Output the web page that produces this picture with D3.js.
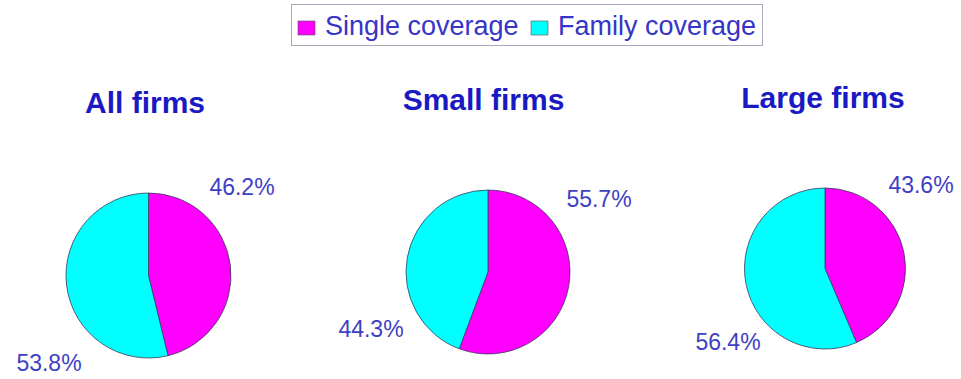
<!DOCTYPE html>
<html>
<head>
<meta charset="utf-8">
<script src="https://cdn.jsdelivr.net/npm/d3@7"></script>
<style>
  body { margin: 0; background: #fff; }
  svg { display: block; font-family: Arial, "Liberation Sans", sans-serif; }
</style>
</head>
<body>
<svg id="chart"></svg>
<script>
// chart data
const groups = ["All firms", "Small firms", "Large firms"];
const series = ["Single coverage", "Family coverage"];
const singleShare = [46.2, 55.7, 43.6];
const familyShare = [53.8, 44.3, 56.4];
const colors = ["#ff00ff", "#00ffff"];

// layout (picture is slightly tilted, so each pie gets its own spot)
const pieCenters = [[148.5, 275.5], [488, 272], [825, 268.5]];
const pieRadius = [82.5, 82, 80.5];
const titlePos = [[145, 112.5], [483.5, 109.5], [823, 108]];
const labelOffsets = [
  [[93.5, -80.5], [-99.5, 95.5]],
  [[111, -65], [-117, 65]],
  [[96, -75.5], [-97, 81.5]]
];

const width = 961, height = 379;

const svg = d3.select("#chart")
  .attr("width", width)
  .attr("height", height);

// legend
const legend = svg.append("g").attr("class", "legend");
legend.append("rect")
  .attr("x", 291.5).attr("y", 4.5)
  .attr("width", 471).attr("height", 41)
  .attr("fill", "#fff")
  .attr("stroke", "#a8a8b8")
  .attr("stroke-width", 1);

const legendX = [298, 531];
series.forEach((s, i) => {
  legend.append("rect")
    .attr("x", legendX[i]).attr("y", 21)
    .attr("width", 17).attr("height", 14)
    .attr("fill", colors[i])
    .attr("stroke", "#555")
    .attr("stroke-width", 0.6);
  legend.append("text")
    .attr("x", legendX[i] + 27).attr("y", 35)
    .attr("fill", "#3535c8")
    .style("font-size", "27px")
    .text(s);
});

const pie = d3.pie().sort(null).value(d => d);

groups.forEach((g, i) => {
  const [cx, cy] = pieCenters[i];
  const arc = d3.arc().innerRadius(0).outerRadius(pieRadius[i]);
  const values = [singleShare[i], familyShare[i]];

  svg.append("text")
    .attr("x", titlePos[i][0]).attr("y", titlePos[i][1])
    .attr("text-anchor", "middle")
    .attr("font-weight", "bold")
    .attr("fill", "#1a1ac4")
    .style("font-size", "30px")
    .text(g);

  const chart = svg.append("g")
    .attr("transform", `translate(${cx},${cy})`);

  chart.selectAll(".slice")
    .data(pie(values))
    .join("path")
      .attr("class", "slice")
      .attr("d", arc)
      .attr("fill", (d, j) => colors[j])
      .attr("stroke", "#3a3a5a")
      .attr("stroke-width", 0.8);

  chart.selectAll(".lbl")
    .data(values)
    .join("text")
      .attr("class", "lbl")
      .attr("x", (d, j) => labelOffsets[i][j][0])
      .attr("y", (d, j) => labelOffsets[i][j][1])
      .attr("text-anchor", "middle")
      .attr("fill", "#3f3fc4")
      .style("font-size", "23px")
      .text(d => d3.format(".1f")(d) + "%");
});
</script>
</body>
</html>
